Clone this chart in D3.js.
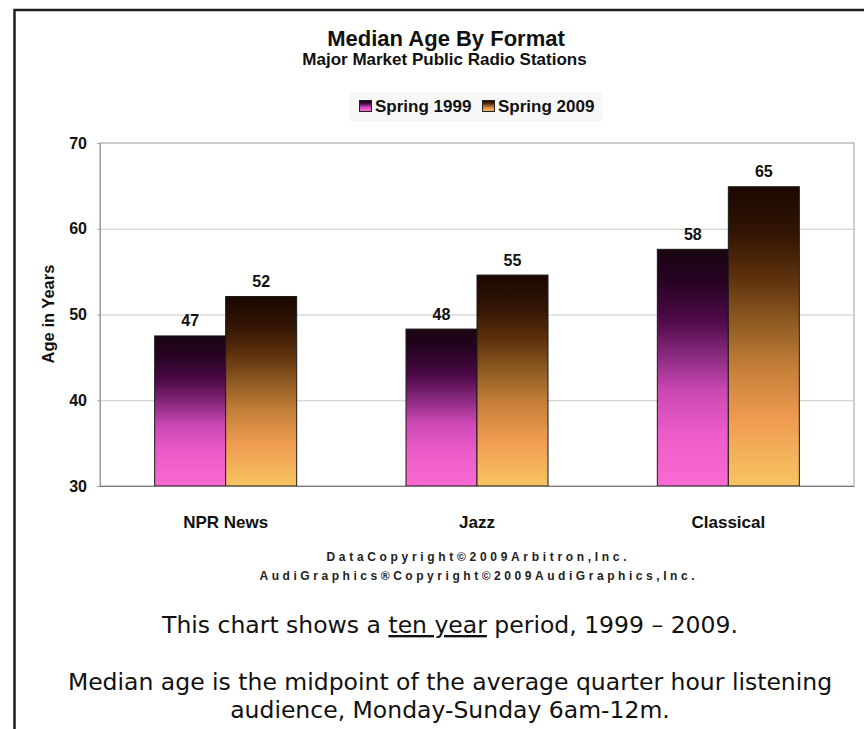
<!DOCTYPE html>
<html><head><meta charset="utf-8">
<script src="https://cdn.jsdelivr.net/npm/d3@7"></script>
<style>html,body{margin:0;padding:0;background:#fff;} svg{display:block}</style>
</head><body><svg id="c" width="864" height="729"></svg>
<script>
const categories = ["NPR News", "Jazz", "Classical"];
const seriesNames = ["Spring 1999", "Spring 2009"];
const values1999 = [47.5, 48.3, 57.6];
const values2009 = [52.1, 54.6, 64.9];
const labels1999 = ["47", "48", "58"];
const labels2009 = ["52", "55", "65"];
const yTicks = [30, 40, 50, 60, 70];
const titleText = "Median Age By Format";
const subtitleText = "Major Market Public Radio Stations";
const yTitle = "Age in Years";
const copyrightLines = ["DataCopyright©2009Arbitron,Inc.", "AudiGraphics®Copyright©2009AudiGraphics,Inc."];

const svg = d3.select("#c");
const W = 864, H = 729;
const plot = {l: 100, r: 854, t: 143, b: 486};
const BOLD = "'Liberation Sans', Arial, sans-serif";

// frame
svg.append("path").attr("d", `M14.5,${H} L14.5,10 L${W},10`).attr("fill", "none")
  .attr("stroke", "#1e1e1e").attr("stroke-width", 2.5);

// gradients
const defs = svg.append("defs");
const grads = {
  "g0": [[0, "#1a0412"], [0.13, "#260322"], [0.3, "#4e0a48"], [0.45, "#8a2a80"], [0.6, "#cc48b4"], [0.78, "#ec5cc8"], [1, "#f96ad2"]],
  "g1": [[0, "#1c0800"], [0.15, "#311405"], [0.3, "#5c300c"], [0.45, "#8e5a22"], [0.6, "#c47e38"], [0.78, "#f09c52"], [1, "#f8c462"]]
};
Object.entries(grads).forEach(([id, stops]) => {
  const g = defs.append("linearGradient").attr("id", id).attr("x1", 0).attr("y1", 0).attr("x2", 0).attr("y2", 1);
  stops.forEach(s => g.append("stop").attr("offset", s[0]).attr("stop-color", s[1]));
});

// scales
const x0 = d3.scaleBand().domain(categories).range([plot.l, plot.r]).paddingInner(0.435).paddingOuter(0.2175);
const x1 = d3.scaleBand().domain(seriesNames).range([0, x0.bandwidth()]);
const y = d3.scaleLinear().domain([30, 70]).range([plot.b, plot.t]);

// plot border
svg.append("rect").attr("x", plot.l).attr("y", plot.t).attr("width", plot.r - plot.l).attr("height", plot.b - plot.t)
  .attr("fill", "#fff").attr("stroke", "#9a9a9a").attr("stroke-width", 1);

// grid
const grid = svg.append("g").attr("transform", `translate(${plot.l},0)`)
  .call(d3.axisLeft(y).tickValues(yTicks.slice(1, -1)).tickSize(-(plot.r - plot.l)).tickFormat(""));
grid.select(".domain").remove();
grid.selectAll("line").attr("stroke", "#c8c8c8");

// y axis
const ya = svg.append("g").attr("transform", `translate(${plot.l},0)`)
  .call(d3.axisLeft(y).tickValues(yTicks).tickSize(3).tickPadding(10).tickFormat(d3.format("d")));
ya.select(".domain").attr("stroke", "#9a9a9a");
ya.selectAll("line").attr("stroke", "#aaa");
ya.selectAll("text").attr("font-family", BOLD).attr("font-weight", "bold").attr("font-size", 16).attr("fill", "#111");

// bars
const rows = categories.map((c, i) => ({c, vals: [values1999[i], values2009[i]], labs: [labels1999[i], labels2009[i]]}));
const groups = svg.append("g").selectAll("g").data(rows).join("g")
  .attr("transform", d => `translate(${x0(d.c)},0)`);
groups.selectAll("rect").data(d => d.vals.map((v, j) => ({v, s: seriesNames[j], j}))).join("rect")
  .attr("x", d => x1(d.s)).attr("width", x1.bandwidth())
  .attr("y", d => y(d.v)).attr("height", d => y(30) - y(d.v))
  .attr("fill", d => `url(#g${d.j})`).attr("stroke", "#1a1a1a").attr("stroke-width", 1);
groups.selectAll("text").data(d => d.vals.map((v, j) => ({v, s: seriesNames[j], lab: d.labs[j]}))).join("text")
  .attr("x", d => x1(d.s) + x1.bandwidth() / 2).attr("y", d => y(d.v) - 9.5)
  .attr("text-anchor", "middle").attr("font-family", BOLD).attr("font-weight", "bold").attr("font-size", 16)
  .attr("fill", "#111").text(d => d.lab);

// bottom axis
const xa = svg.append("g").attr("transform", `translate(0,${plot.b})`)
  .call(d3.axisBottom(x0).tickSize(0).tickPadding(30));
xa.select(".domain").attr("stroke", "#777").attr("d", `M${plot.l},0.5H${plot.r}`);
xa.selectAll("text").attr("font-family", BOLD).attr("font-weight", "bold").attr("font-size", 17).attr("fill", "#111");

// y title
svg.append("text").attr("transform", "translate(48,314) rotate(-90)").attr("text-anchor", "middle")
  .attr("dominant-baseline", "central").attr("font-family", BOLD).attr("font-weight", "bold").attr("font-size", 16.5)
  .attr("fill", "#111").text(yTitle);

// titles
svg.append("text").attr("x", 446).attr("y", 46).attr("text-anchor", "middle").attr("font-family", BOLD)
  .attr("font-weight", "bold").attr("font-size", 22).attr("fill", "#111").text(titleText);
svg.append("text").attr("x", 444.5).attr("y", 65).attr("text-anchor", "middle").attr("font-family", BOLD)
  .attr("font-weight", "bold").attr("font-size", 17).attr("fill", "#111").text(subtitleText);

// legend
svg.append("rect").attr("x", 350).attr("y", 92).attr("width", 252).attr("height", 30).attr("fill", "#f7f7f7");
const legX = [359, 482];
seriesNames.forEach((s, j) => {
  svg.append("rect").attr("x", legX[j] + 0.5).attr("y", 100.5).attr("width", 12).attr("height", 11)
    .attr("fill", `url(#g${j})`).attr("stroke", "#222").attr("stroke-width", 1);
  svg.append("text").attr("x", legX[j] + 16).attr("y", 112).attr("font-family", BOLD).attr("font-weight", "bold")
    .attr("font-size", 17).attr("fill", "#111").text(s);
});

// copyright
const cpX = [326.5, 259.5], cpY = [561, 580], cpL = [300, 435];
copyrightLines.forEach((t, i) => {
  svg.append("text").attr("x", cpX[i]).attr("y", cpY[i]).attr("font-family", BOLD).attr("font-weight", "bold")
    .attr("font-size", 12).attr("fill", "#222").attr("textLength", cpL[i]).attr("lengthAdjust", "spacing").text(t);
});

// notes
const NOTE = "'DejaVu Sans', Verdana, sans-serif";
const n1 = svg.append("text").attr("x", 450).attr("y", 633).attr("text-anchor", "middle").attr("font-family", NOTE)
  .attr("font-size", 23.5).attr("fill", "#111");
n1.append("tspan").text("This chart shows a ");
n1.append("tspan").attr("text-decoration", "underline").text("ten year");
n1.append("tspan").text(" period, 1999 \u2013 2009.");
svg.append("text").attr("x", 450).attr("y", 690).attr("text-anchor", "middle").attr("font-family", NOTE)
  .attr("font-size", 23.5).attr("fill", "#111").text("Median age is the midpoint of the average quarter hour listening");
svg.append("text").attr("x", 450).attr("y", 718).attr("text-anchor", "middle").attr("font-family", NOTE)
  .attr("font-size", 23.5).attr("fill", "#111").text("audience, Monday-Sunday 6am-12m.");
</script></body></html>
